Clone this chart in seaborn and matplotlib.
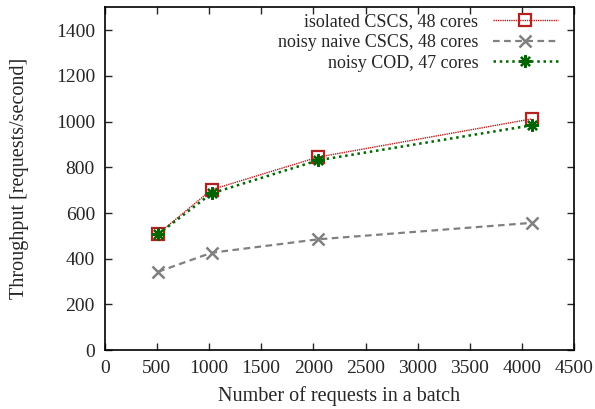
import numpy as np
import pandas as pd
import matplotlib
matplotlib.use("Agg")
import matplotlib.pyplot as plt
import seaborn as sns

# batch sizes and measured throughput
batch_sizes = [512, 1024, 2048, 4096]
isolated_cscs = [509, 702, 845, 1012]
noisy_naive_cscs = [343, 426, 485, 557]
noisy_cod = [507, 686, 831, 984]

labels = ["isolated CSCS, 48 cores", "noisy naive CSCS, 48 cores", "noisy COD, 47 cores"]
x_ticks = [0, 500, 1000, 1500, 2000, 2500, 3000, 3500, 4000, 4500]
y_ticks = [0, 200, 400, 600, 800, 1000, 1200, 1400]

sns.set_style("ticks")
plt.rcParams["font.family"] = ["Liberation Serif", "DejaVu Serif"]
plt.rcParams["font.size"] = 13

df = pd.DataFrame({
    "batch": batch_sizes * 3,
    "throughput": isolated_cscs + noisy_naive_cscs + noisy_cod,
    "series": [labels[0]] * 4 + [labels[1]] * 4 + [labels[2]] * 4,
})

fig = plt.figure(figsize=(5.95, 4.09), dpi=100)
ax = fig.add_axes([0.176, 0.144, 0.789, 0.838])

styles = {
    labels[0]: dict(color="#b22222", ls=(0, (1, 0.6)), lw=1.0, marker="s", ms=8,
                    mfc="none", mew=1.6),
    labels[1]: dict(color="#808080", ls=(0, (3, 2)), lw=1.6, marker="x", ms=9, mew=1.8),
    labels[2]: dict(color="#006400", ls=(0, (1, 1.5)), lw=1.8, marker=(8, 2, 0), ms=9, mew=1.6),
}

for name in labels:
    sub = df[df["series"] == name]
    st = styles[name]
    sns.lineplot(data=sub, x="batch", y="throughput", ax=ax, label=name,
                 color=st["color"], linestyle=st["ls"], linewidth=st["lw"],
                 marker=st["marker"], markersize=st["ms"],
                 markerfacecolor=st.get("mfc", st["color"]),
                 markeredgecolor=st["color"], markeredgewidth=st["mew"])

ax.set_xlim(0, 4500)
ax.set_ylim(0, 1500)
ax.set_xticks(x_ticks)
ax.set_yticks(y_ticks)
ax.tick_params(direction="in", top=True, right=True, length=5, width=1, labelsize=14,
               pad=7)
for s in ax.spines.values():
    s.set_linewidth(1.2)
    s.set_color("black")

ax.set_xlabel("Number of requests in a batch", fontsize=14.5, labelpad=7)
ax.set_ylabel("Throughput [requests/second]", fontsize=14.5, labelpad=19)

ax.legend(loc="upper right", bbox_to_anchor=(1.0, 1.03), frameon=False,
          markerfirst=False, handlelength=3.6, labelspacing=0.2, fontsize=13,
          handletextpad=0.8)

plt.savefig("out.png", dpi=100)
